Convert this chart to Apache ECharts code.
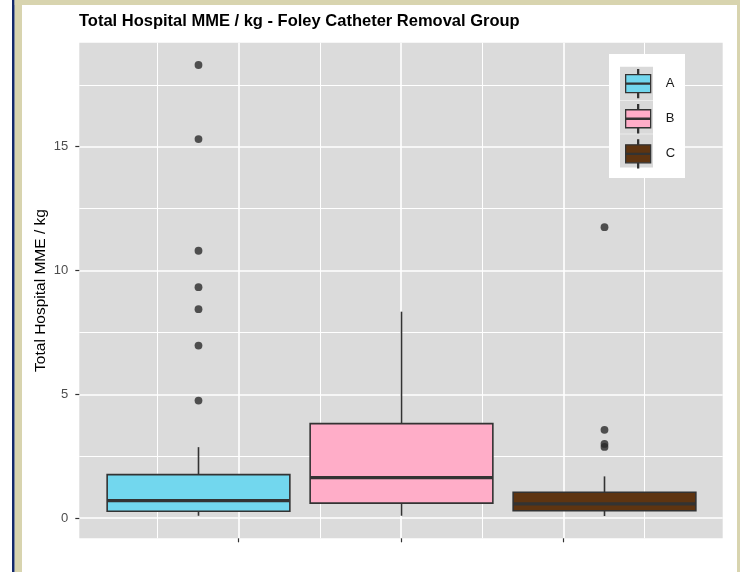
<!DOCTYPE html>
<html>
<head>
<meta charset="utf-8">
<title>Total Hospital MME / kg</title>
<script src="https://cdn.jsdelivr.net/npm/echarts@6/dist/echarts.min.js"></script>
<style>
  html, body { margin: 0; padding: 0; background: #ffffff; }
  #main { width: 740px; height: 572px; }
</style>
</head>
<body>
<div id="main"></div>
<script>
// groups and their box statistics: [lower whisker, Q1, median, Q3, upper whisker]
const groups = ['A', 'B', 'C'];
const boxA = [0.10, 0.28, 0.71, 1.76, 2.87];
const boxB = [0.10, 0.61, 1.64, 3.82, 8.34];
const boxC = [0.09, 0.30, 0.58, 1.05, 1.69];
const outliersA = [18.30, 15.31, 10.80, 9.33, 8.44, 6.97, 4.75];
const outliersB = [];
const outliersC = [11.75, 3.57, 3.00, 2.88];

// axis ticks
const yTicks = [0, 5, 10, 15];
const yMinorTicks = [2.5, 7.5, 12.5, 17.5];
const xTicks = [-1, 0, 1];
const xMinorTicks = [-1.5, -0.5, 0.5, 1.5];

const fills = ['#72D7EE', '#FFADC8', '#5E3411'];
const FONT = 'Liberation Sans, Arial, sans-serif';
const Y_MIN = -0.81, Y_MAX = 19.2;

const chart = echarts.init(document.getElementById('main'), null, { renderer: 'canvas' });

function renderBox(params, api) {
    const x = api.value(0);
    const lo = api.coord([x, api.value(1)]);
    const q1 = api.coord([x, api.value(2)]);
    const md = api.coord([x, api.value(3)]);
    const q3 = api.coord([x, api.value(4)]);
    const hi = api.coord([x, api.value(5)]);
    const half = api.size([1, 0])[0] * 0.45;
    const cx = lo[0];
    const edge = { stroke: '#333333', lineWidth: 1.6 };
    return {
        type: 'group',
        children: [
            { type: 'line', shape: { x1: cx, y1: hi[1], x2: cx, y2: q3[1] }, style: edge },
            { type: 'line', shape: { x1: cx, y1: q1[1], x2: cx, y2: lo[1] }, style: edge },
            {
                type: 'rect',
                shape: { x: cx - half, y: q3[1], width: half * 2, height: q1[1] - q3[1] },
                style: { fill: api.visual('color'), stroke: '#333333', lineWidth: 1.6 }
            },
            { type: 'line', shape: { x1: cx - half, y1: md[1], x2: cx + half, y2: md[1] }, style: { stroke: '#333333', lineWidth: 3.4 } }
        ]
    };
}

const boxes = [boxA, boxB, boxC];
const outliers = [outliersA, outliersB, outliersC];

const boxSeries = groups.map((g, i) => ({
    name: g,
    type: 'custom',
    xAxisIndex: 2,
    yAxisIndex: 2,
    renderItem: renderBox,
    itemStyle: { color: fills[i] },
    encode: { x: 0, y: [1, 2, 3, 4, 5] },
    data: [[i].concat(boxes[i])],
    z: 3
}));

const pointSeries = groups.map((g, i) => ({
    name: g + ' outliers',
    type: 'scatter',
    xAxisIndex: 2,
    yAxisIndex: 2,
    symbolSize: 7.8,
    itemStyle: { color: '#2a2a2a' },
    data: outliers[i].map(v => [i, v]),
    z: 4
}));

// mini boxplot used as legend key
const keyIcon = 'path://M12,0H13V5H12Z M0,5H25V23H0Z M0,13.5H25V14.5H0Z M12,23H13V28H12Z';

const frame = [
    { type: 'rect', shape: { x: 12, y: 0, width: 2.7, height: 572 }, style: { fill: '#13296B' } },
    { type: 'rect', shape: { x: 14.7, y: 0, width: 7.3, height: 572 }, style: { fill: '#D8D4AF' } },
    { type: 'rect', shape: { x: 14.7, y: 0, width: 726, height: 5 }, style: { fill: '#D8D4AF' } },
    { type: 'rect', shape: { x: 737, y: 0, width: 3, height: 572 }, style: { fill: '#D8D4AF' } },
    // legend box and key backgrounds
    { type: 'rect', shape: { x: 609, y: 54, width: 76, height: 124 }, style: { fill: '#ffffff' } },
    { type: 'rect', shape: { x: 620, y: 66.7, width: 33, height: 33.3 }, style: { fill: '#D9D9D9' } },
    { type: 'rect', shape: { x: 620, y: 100.5, width: 33, height: 33.3 }, style: { fill: '#D9D9D9' } },
    { type: 'rect', shape: { x: 620, y: 134.3, width: 33, height: 33.3 }, style: { fill: '#D9D9D9' } }
].map(el => Object.assign({ z: 50 }, el));

const option = {
    backgroundColor: '#ffffff',
    animation: false,
    textStyle: { fontFamily: FONT },
    title: {
        text: 'Total Hospital MME / kg - Foley Catheter Removal Group',
        left: 79,
        top: 13,
        padding: 0,
        textStyle: { fontFamily: FONT, fontWeight: 'bold', fontSize: 16.5, color: '#000000' }
    },
    graphic: { elements: frame },
    legend: {
        orient: 'vertical',
        left: 625,
        top: 69,
        padding: 0,
        itemWidth: 25,
        itemHeight: 28,
        itemGap: 5.8,
        z: 60,
        selectedMode: false,
        itemStyle: { borderColor: '#333333', borderWidth: 1.3 },
        textStyle: { fontFamily: FONT, fontSize: 13, color: '#1a1a1a', padding: [0, 0, 0, 10] },
        data: groups.map(g => ({ name: g, icon: keyIcon }))
    },
    grid: [
        {
            left: 79.3, right: 17.3, top: 42.7, bottom: 33.7,
            show: true, backgroundColor: '#DBDBDB', borderWidth: 0
        },
        { left: 97, right: 34, top: 42.7, bottom: 33.7 }
    ],
    xAxis: [
        {
            type: 'value', gridIndex: 0, min: -1.98, max: 1.98, position: 'bottom',
            axisLine: { show: false, onZero: false },
            axisTick: { show: true, length: 4, customValues: xTicks, lineStyle: { color: '#333333', width: 1.2 } },
            axisLabel: { show: false },
            splitLine: { show: true, lineStyle: { color: '#ffffff', width: 1.6 } }
        },
        {
            type: 'value', gridIndex: 0, min: -1.98, max: 1.98, position: 'bottom',
            axisLine: { show: false, onZero: false },
            axisTick: { show: false, customValues: xMinorTicks },
            axisLabel: { show: false },
            splitLine: { show: true, lineStyle: { color: '#ffffff', width: 1 } }
        },
        {
            type: 'category', gridIndex: 1, data: groups, show: false,
            axisLine: { onZero: false }
        }
    ],
    yAxis: [
        {
            type: 'value', gridIndex: 0, min: Y_MIN, max: Y_MAX, position: 'left',
            name: 'Total Hospital MME / kg',
            nameLocation: 'middle',
            nameGap: 31,
            nameMoveOverlap: false,
            nameTextStyle: { fontFamily: FONT, fontSize: 15.5, color: '#000000' },
            axisLine: { show: false, onZero: false },
            axisTick: { show: true, length: 4, customValues: yTicks, lineStyle: { color: '#333333', width: 1.2 } },
            axisLabel: { customValues: yTicks, margin: 11, fontFamily: FONT, fontSize: 13, color: '#4D4D4D' },
            splitLine: { show: true, lineStyle: { color: '#ffffff', width: 1.6 } }
        },
        {
            type: 'value', gridIndex: 0, min: Y_MIN, max: Y_MAX, position: 'left',
            axisLine: { show: false, onZero: false },
            axisTick: { show: false, customValues: yMinorTicks },
            axisLabel: { show: false },
            splitLine: { show: true, lineStyle: { color: '#ffffff', width: 1 } }
        },
        {
            type: 'value', gridIndex: 1, min: Y_MIN, max: Y_MAX, show: false,
            axisLine: { onZero: false },
            splitLine: { show: false }
        }
    ],
    series: boxSeries.concat(pointSeries)
};

chart.setOption(option);
window.addEventListener('resize', () => {
    chart.resize();
});
</script>
</body>
</html>
